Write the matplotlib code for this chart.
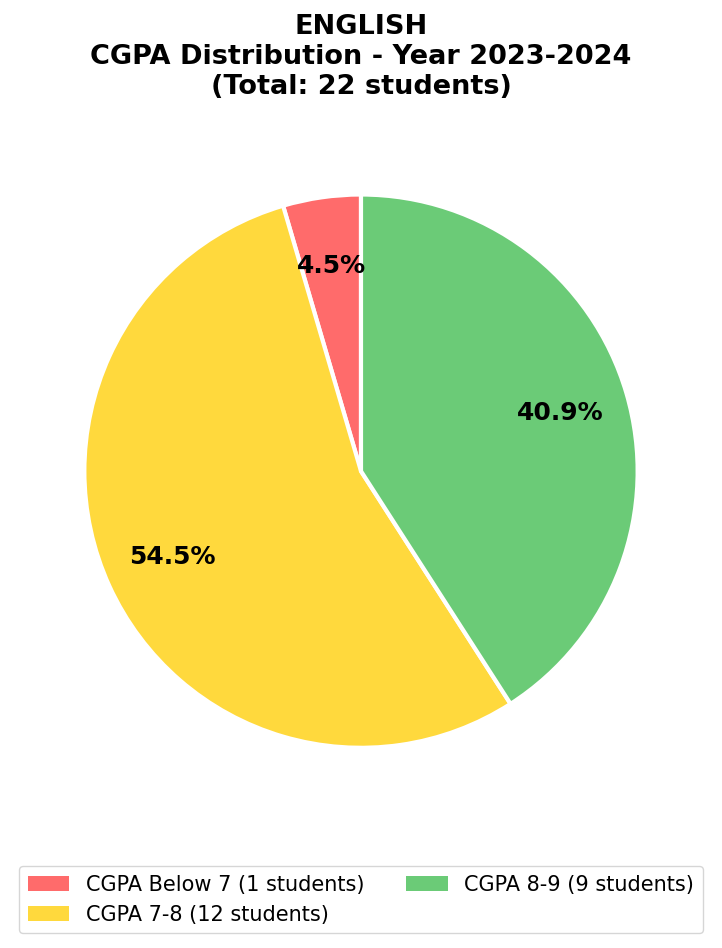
import matplotlib.pyplot as plt
from matplotlib.patches import Patch

labels = ['CGPA Below 7 (1 students)', 'CGPA 7-8 (12 students)', 'CGPA 8-9 (9 students)']
counts = [1, 12, 9]
colors = ['#ff6b6b', '#ffd93d', '#6bcb77']

fig = plt.figure(figsize=(7.22, 9.48), dpi=100)
ax = fig.add_axes([0.0, 0.182, 1.0, 0.642])

wedges, texts, autotexts = ax.pie(counts, colors=colors, autopct='%1.1f%%', startangle=90,
                                  pctdistance=0.75,
                                  wedgeprops={'edgecolor': 'white', 'linewidth': 3},
                                  textprops={'fontsize': 18, 'fontweight': 'bold'})
ax.axis('equal')

fig.suptitle('ENGLISH\nCGPA Distribution - Year 2023-2024\n(Total: 22 students)',
             fontsize=19.5, fontweight='bold', y=0.985)

handles = [Patch(facecolor=c) for c in colors]
fig.legend(handles, labels, loc='lower center', ncol=2, fontsize=15,
           bbox_to_anchor=(0.5, 0.0045), frameon=True)

plt.savefig('out.png', dpi=100)
